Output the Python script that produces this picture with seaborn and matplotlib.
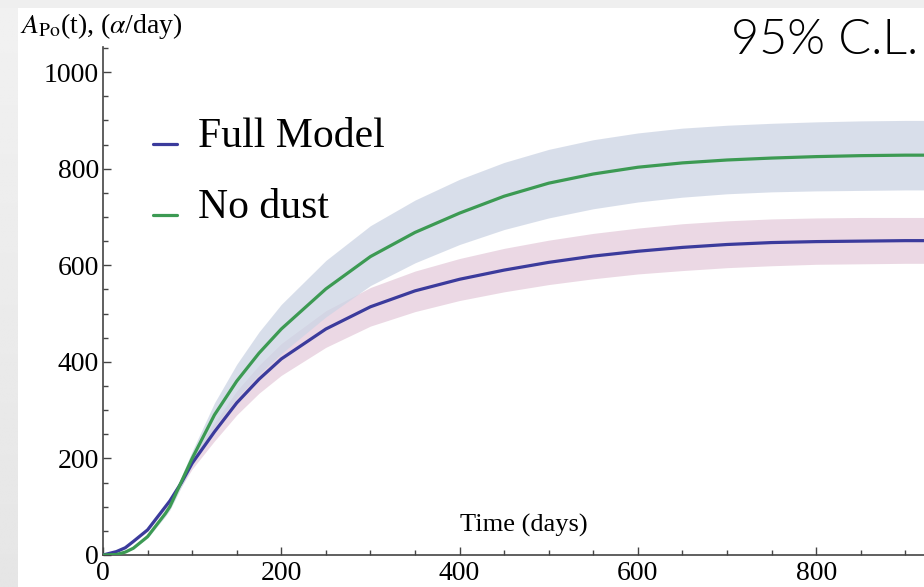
import numpy as np
import pandas as pd
import matplotlib
matplotlib.use("Agg")
import matplotlib.pyplot as plt
import seaborn as sns
from matplotlib.patches import Rectangle
from matplotlib.lines import Line2D
from matplotlib.ticker import MultipleLocator

# Time grid (days)
days = [0, 15, 25, 34, 50, 70, 75, 88, 100, 125, 150, 175, 200, 250, 300,
        350, 400, 450, 500, 550, 600, 650, 700, 750, 800, 850, 900, 925]

# Full model: central curve and 95% C.L. band
full_model = [0, 7, 15, 28, 52, 100, 112, 150, 190, 255, 315, 364, 406, 468,
              514, 547, 571, 590, 606, 619, 629, 637, 643, 647, 649, 650,
              651, 651]
full_lo = [0, 6, 14, 26, 49, 95, 106, 142, 178, 236, 290, 335, 372, 430,
           474, 504, 527, 545, 560, 572, 582, 589, 595, 599, 602, 603,
           604, 604]
full_hi = [0, 8, 16, 30, 55, 105, 118, 158, 203, 274, 340, 393, 438, 506,
           554, 588, 614, 635, 652, 666, 677, 686, 692, 696, 698, 699,
           699, 699]

# No-dust scenario: central curve and 95% C.L. band
no_dust = [0, 1, 6, 14, 38, 86, 100, 152, 200, 290, 360, 418, 468, 551,
           618, 668, 708, 743, 770, 789, 803, 812, 818, 822, 825, 827,
           828, 828]
nodust_lo = [0, 1, 5, 13, 35, 80, 93, 141, 185, 265, 325, 374, 417, 493,
             558, 605, 643, 674, 698, 717, 731, 741, 748, 752, 754, 755,
             756, 756]
nodust_hi = [0, 1, 7, 15, 41, 92, 107, 163, 215, 315, 395, 462, 519, 610,
             682, 735, 778, 813, 840, 860, 874, 884, 890, 894, 897, 899,
             900, 900]

series_names = ["Full Model", "No dust"]
x_ticks = [0, 200, 400, 600, 800]
y_ticks = [0, 200, 400, 600, 800, 1000]

line_colors = {"Full Model": "#3b3b9c", "No dust": "#3c9a53"}
band_colors = {"Full Model": "#e5ccdb", "No dust": "#ccd4e4"}

sns.set_theme(style="white")
plt.rcParams.update({
    "font.family": ["Liberation Serif", "DejaVu Serif"],
    "mathtext.fontset": "stix",
    "text.color": "black",
})

W, H = 924, 587
fig = plt.figure(figsize=(W / 100, H / 100), dpi=100, facecolor="#efefef")

# white panel behind the plot
fig.add_artist(Rectangle((18 / W, 0), 1 - 18 / W, (H - 8) / H,
                         transform=fig.transFigure, facecolor="white",
                         edgecolor="none", zorder=-2))
# soft grey strip on the left edge
strip = fig.add_axes([0, 0, 18 / W, (H - 8) / H], zorder=-1)
grad = np.linspace(0.90, 0.945, 200)[:, None]
strip.imshow(np.repeat(grad, 4, axis=1), cmap="gray", vmin=0, vmax=1,
             aspect="auto", origin="lower")
strip.set_axis_off()

ax = fig.add_axes([103 / W, (H - 555) / H, (W - 103) / W, (555 - 47) / H])
ax.set_facecolor("none")

df = pd.concat([
    pd.DataFrame({"day": days, "value": full_model, "series": "Full Model"}),
    pd.DataFrame({"day": days, "value": no_dust, "series": "No dust"}),
])

ax.fill_between(days, full_lo, full_hi, color=band_colors["Full Model"],
                alpha=0.75, linewidth=0, zorder=1)
ax.fill_between(days, nodust_lo, nodust_hi, color=band_colors["No dust"],
                alpha=0.75, linewidth=0, zorder=1)

sns.lineplot(data=df, x="day", y="value", hue="series", palette=line_colors,
             hue_order=series_names, linewidth=2.3, legend=False, ax=ax,
             zorder=3)
for ln in ax.get_lines():
    ln.set_solid_joinstyle("round")

ax.set_xlim(0, 921)
ax.set_ylim(0, 1052)
ax.set_xticks(x_ticks)
ax.set_yticks(y_ticks)
ax.xaxis.set_minor_locator(MultipleLocator(50))
ax.yaxis.set_minor_locator(MultipleLocator(50))
ax.set_xlabel("")
ax.set_ylabel("")
for s in ["top", "right"]:
    ax.spines[s].set_visible(False)
for s in ["left", "bottom"]:
    ax.spines[s].set_color("#444444")
    ax.spines[s].set_linewidth(1.2)
ax.tick_params(which="both", direction="in", color="#444444", width=1.0,
               bottom=True, left=True, top=False, right=False,
               labelsize=20, labelcolor="black")
ax.tick_params(which="major", length=6)
ax.tick_params(which="minor", length=3.5)
ax.tick_params(axis="x", pad=4)
ax.tick_params(axis="y", pad=3)

# axis titles
fig.text(20 / W, (H - 33) / H, r"$A_{\mathrm{Po}}$(t), ($\alpha$/day)",
         fontsize=20, ha="left", va="baseline")
fig.text(524 / W, (H - 531.5) / H, "Time (days)", fontsize=19,
         ha="center", va="baseline")

# confidence level note
fig.text(918 / W, (H - 54) / H, "95% C.L.", family=["Lato", "DejaVu Sans"],
         fontsize=35, weight=300, ha="right", va="baseline")

# legend entries
for name, base_y in zip(series_names, [147, 218]):
    fig.add_artist(Line2D([153 / W, 177 / W],
                          [(H - base_y + 3) / H, (H - base_y + 3) / H],
                          transform=fig.transFigure,
                          color=line_colors[name], linewidth=2.3))
    fig.text(198 / W, (H - base_y) / H, name, fontsize=30,
             ha="left", va="baseline")

fig.savefig("out.png", dpi=100, facecolor=fig.get_facecolor())
